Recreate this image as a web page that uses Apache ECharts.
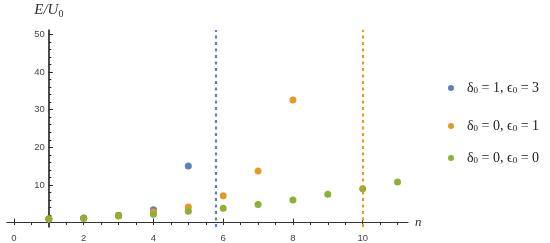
<!DOCTYPE html>
<html>
<head>
<meta charset="utf-8">
<script src="https://cdn.jsdelivr.net/npm/echarts@6/dist/echarts.min.js"></script>
<style>html,body{margin:0;padding:0;background:#fff}#c{width:550px;height:243px}</style>
</head>
<body>
<div id="c"></div>
<script>
// ---- data ----
const nBlue = [1, 2, 3, 4, 5];
const blueValues = [0.9, 1.2, 1.9, 3.4, 15.0];
const nOrange = [1, 2, 3, 4, 5, 6, 7, 8];
const orangeValues = [0.9, 1.15, 1.8, 2.8, 4.1, 7.1, 13.7, 32.6];
const nGreen = [1, 2, 3, 4, 5, 6, 7, 8, 9, 10, 11];
const greenValues = [0.9, 1.1, 1.7, 2.2, 3.0, 3.8, 4.8, 6.0, 7.5, 9.0, 10.8];
const seriesNames = ['blue', 'orange', 'green'];
const legendParts = [['1', '3'], ['0', '1'], ['0', '0']]; // δ0 , ϵ0 values
const criticalN = [5.78, 10];
const xLabelValues = [0, 2, 4, 6, 8, 10];
const xMinorValues = [0,0.5,1,1.5,2,2.5,3,3.5,4,4.5,5,5.5,6,6.5,7,7.5,8,8.5,9,9.5,10,10.5,11];
const yLabelValues = [10, 20, 30, 40, 50];
const yMinorValues = [0,2,4,6,8,10,12,14,16,18,20,22,24,26,28,30,32,34,36,38,40,42,44,46,48,50];
const yAxisCrossN = 1;

const colors = ['#5E81B5', '#E19C24', '#8FB032'];
const X_MIN = -0.2, X_MAX = 11.3, Y_MIN = -1.2, Y_MAX = 51.2;
const GRID = {left: 7, right: 142, top: 30, bottom: 15};
const gridW = 550 - GRID.left - GRID.right;
const yOffset = -((yAxisCrossN - X_MIN) / (X_MAX - X_MIN) * gridW);

const chart = echarts.init(document.getElementById('c'), null, {renderer: 'canvas'});

const serif = 'Liberation Serif';
const tickLabel = {fontFamily: 'Liberation Sans', fontSize: 9.5, color: '#444'};

function pairs(xs, ys) { return xs.map((x, i) => [x, ys[i]]); }

const legendRich = {
  t: {fontFamily: serif, fontSize: 14, color: '#222'},
  p: {fontFamily: serif, fontSize: 14, color: '#222', padding: [0, 0, 0, 8]},
  s: {fontFamily: serif, fontSize: 9, color: '#222', verticalAlign: 'bottom', padding: [6, 0, 0, 0]}
};
const legendTops = [76, 114, 146];

const option = {
  animation: false,
  grid: GRID,
  xAxis: [{
    type: 'value', min: X_MIN, max: X_MAX,
    name: 'n', nameLocation: 'end', nameGap: 7,
    nameTextStyle: {fontFamily: serif, fontStyle: 'italic', fontSize: 13, color: '#333', verticalAlign: 'middle'},
    axisLine: {onZero: true, lineStyle: {color: '#333', width: 1.2}},
    axisTick: {inside: true, length: 4, customValues: xLabelValues, lineStyle: {color: '#333'}},
    axisLabel: Object.assign({customValues: xLabelValues, margin: 6}, tickLabel),
    splitLine: {show: false}
  }, {
    type: 'value', min: X_MIN, max: X_MAX,
    axisLine: {show: false, onZero: true},
    axisTick: {inside: true, length: 2.5, customValues: xMinorValues, lineStyle: {color: '#333'}},
    axisLabel: {show: false},
    splitLine: {show: false}
  }],
  yAxis: [{
    type: 'value', min: Y_MIN, max: Y_MAX, position: 'left', offset: yOffset,
    name: '{i|E/U}{s|0}', nameLocation: 'end', nameGap: 11,
    nameTextStyle: {rich: {
      i: {fontFamily: serif, fontStyle: 'italic', fontSize: 15, color: '#333'},
      s: {fontFamily: serif, fontSize: 10, color: '#333', verticalAlign: 'bottom', padding: [7, 0, 0, 0]}
    }},
    axisLine: {show: true, lineStyle: {color: '#111', width: 1.5}},
    axisTick: {inside: true, length: 4, customValues: yLabelValues, lineStyle: {color: '#222'}},
    axisLabel: Object.assign({customValues: yLabelValues, margin: 4}, tickLabel),
    splitLine: {show: false}
  }, {
    type: 'value', min: Y_MIN, max: Y_MAX, position: 'left', offset: yOffset,
    axisLine: {show: false},
    axisTick: {inside: true, length: 2.5, customValues: yMinorValues, lineStyle: {color: '#222'}},
    axisLabel: {show: false},
    splitLine: {show: false}
  }],
  legend: seriesNames.map((nm, i) => ({
    data: [nm], orient: 'vertical', left: 443, top: legendTops[i],
    icon: 'circle', itemWidth: 6, itemHeight: 6,
    formatter: () => '{p|δ}{s|0}{t| = ' + legendParts[i][0] + ', ϵ}{s|0}{t| = ' + legendParts[i][1] + '}',
    textStyle: {rich: legendRich}
  })),
  series: [
    {name: 'blue', type: 'scatter', data: pairs(nBlue, blueValues), symbolSize: 7,
     itemStyle: {color: colors[0], opacity: 1},
     markLine: {silent: true, symbol: 'none', label: {show: false},
       lineStyle: {color: colors[0], type: [3, 3.5], width: 2.2, opacity: 1}, data: [{xAxis: criticalN[0]}]}},
    {name: 'orange', type: 'scatter', data: pairs(nOrange, orangeValues), symbolSize: 7,
     itemStyle: {color: colors[1], opacity: 1},
     markLine: {silent: true, symbol: 'none', label: {show: false},
       lineStyle: {color: colors[1], type: [3, 3.5], width: 2.2, opacity: 1}, data: [{xAxis: criticalN[1]}]}},
    {name: 'green', type: 'scatter', data: pairs(nGreen, greenValues), symbolSize: 7,
     itemStyle: {color: colors[2], opacity: 1}}
  ]
};
chart.setOption(option);
</script>
</body>
</html>
